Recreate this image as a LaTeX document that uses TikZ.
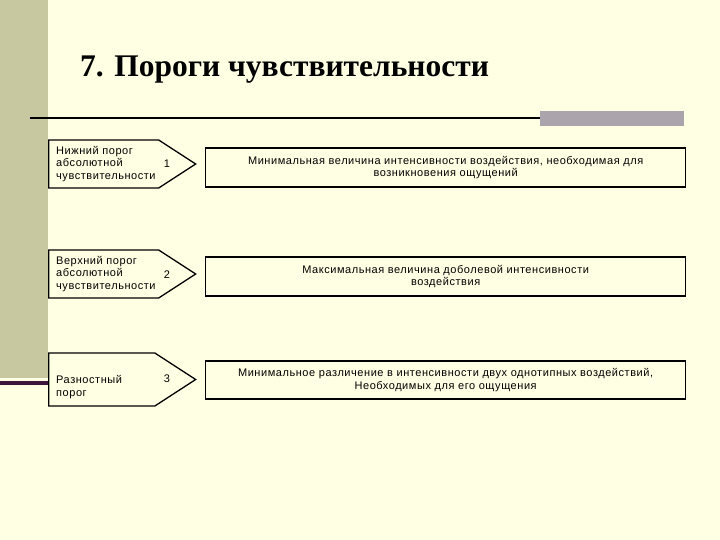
\documentclass[tikz,border=0pt]{standalone}
\usepackage{fontspec}
\setmainfont{Liberation Sans}[LetterSpace=5]
\newfontfamily\titlefont{Liberation Serif}
\usetikzlibrary{shapes.symbols}
\definecolor{bg}{RGB}{255,255,228}
\definecolor{olive}{RGB}{200,200,160}
\definecolor{grayb}{RGB}{172,164,172}
\definecolor{plum}{RGB}{60,20,60}
\begin{document}
\begin{tikzpicture}[x=1pt,y=-1pt,
  arrowbox/.style={draw,line width=1.3pt,fill=bg,shape=signal,signal to=east,signal pointer angle=66,minimum width=147pt,minimum height=48pt,inner sep=0pt,anchor=west},
  descbox/.style={draw,line width=1.3pt,fill=bg,minimum width=480pt,anchor=west,align=center,inner sep=1pt,font=\fontsize{11pt}{12.5pt}\selectfont},
  lbl/.style={anchor=west,align=left,font=\fontsize{11pt}{12.5pt}\selectfont,inner sep=0pt},
  num/.style={font=\fontsize{11pt}{12.5pt}\selectfont,inner sep=0pt}]
\fill[bg] (0,0) rectangle (720,540);
\useasboundingbox (0,0) rectangle (720,540);
\fill[olive] (0,0) rectangle (48,378);
\fill[plum] (0,381) rectangle (48,385);
\fill[grayb] (540,111) rectangle (684,126);
\coordinate (l0) at (30,118);
\coordinate (l1) at (540,118);
\draw[line width=1.6pt] (l0) -- (l1);
\node[anchor=west,inner sep=0pt,font=\titlefont\bfseries\fontsize{31.5pt}{35pt}\selectfont] (title) at (80,70) {7. Пороги чувствительности};
% row 1
\node[arrowbox] (a1) at (48,164) {};
\node[lbl] (t1) at (56,164) {Нижний порог\\абсолютной\\чувствительности};
\node[num] (n1) at (167,164) {1};
\node[descbox,minimum height=39pt] (d1) at (205,167.5) {Минимальная величина интенсивности воздействия, необходимая для\\возникновения ощущений};
% row 2
\node[arrowbox] (a2) at (48,274) {};
\node[lbl] (t2) at (56,274) {Верхний порог\\абсолютной\\чувствительности};
\node[num] (n2) at (167,275) {2};
\node[descbox,minimum height=39pt] (d2) at (205,276.5) {Максимальная величина доболевой интенсивности\\воздействия};
% row 3
\node[arrowbox,minimum height=53pt] (a3) at (48,379.5) {};
\node[lbl] (t3) at (56,387) {Разностный\\порог};
\node[num] (n3) at (167,379) {3};
\node[descbox,minimum height=38pt] (d3) at (205,380) {Минимальное различение в интенсивности двух однотипных воздействий,\\Необходимых для его ощущения};
\end{tikzpicture}
\end{document}
